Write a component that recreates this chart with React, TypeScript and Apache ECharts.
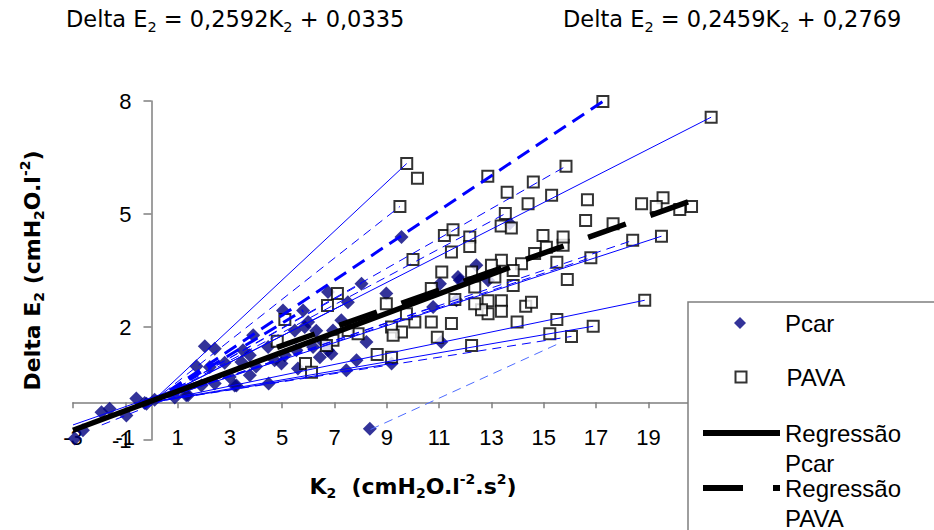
import React, { useEffect, useRef } from 'react';
import * as echarts from 'echarts';

// ---- data ----
const pcarPoints: number[][] = [
  [2.04, 1.49], [2.42, 1.42], [1.72, 0.96], [2.23, 0.94], [1.4, 0.19], [0.89, 0.13], [0.12, 0.07],
  [-0.26, -0.02], [2.42, 0.5], [1.91, 0.45], [2.99, 0.67], [3.25, 0.45], [3.5, 1.38], [3.44, 1.07],
  [3.76, 1.25], [3.89, 1.78], [3.76, 0.72], [4.48, 0.5], [4.46, 1.47], [4.71, 1.12], [4.97, 1.03],
  [5.03, 2.44], [5.1, 1.25], [5.48, 1.91], [5.54, 1.38], [5.8, 2.44], [5.99, 2.13], [5.86, 2.0],
  [6.18, 1.47], [6.56, 1.6], [6.44, 1.2], [6.75, 1.38], [6.88, 1.29], [6.75, 2.93], [6.94, 1.91],
  [7.26, 2.18], [7.51, 2.66], [7.45, 0.85], [7.84, 1.12], [8.03, 3.15], [8.22, 1.6], [8.98, 2.89],
  [9.18, 1.03], [10.77, 2.53], [8.35, -0.7], [9.56, 4.39], [12.42, 3.64], [11.72, 3.33], [11.03, 3.15],
  [11.79, 3.24], [12.87, 3.24], [11.08, 1.6], [11.66, 2.71], [13.7, 4.75], [-1.6, -0.17], [-1.91, -0.26],
  [-0.58, 0.1], [-0.96, -0.35], [-0.19, -0.04], [-2.93, -0.96], [-2.62, -0.74], [1.33, 0.19], [3.18, 0.45],
  [2.8, 1.05], [4.0, 0.95], [5.6, 0.9], [6.3, 1.9],
];

const pavaPoints: number[][] = [
  [17.26, 7.99], [21.4, 7.57], [9.76, 6.34], [10.17, 5.95], [9.5, 5.2], [12.86, 6.0], [15.85, 6.27],
  [14.6, 5.85], [13.6, 5.58], [15.3, 5.5], [14.4, 5.27], [16.67, 5.38], [16.6, 4.83], [18.74, 5.27],
  [19.56, 5.43], [19.3, 5.2], [20.2, 5.12], [20.65, 5.2], [17.65, 4.74], [13.53, 5.01], [13.37, 4.68],
  [13.76, 4.63], [19.5, 4.41], [18.4, 4.3], [16.8, 3.84], [15.74, 4.17], [15.74, 4.39], [14.97, 4.43],
  [15.1, 4.12], [14.65, 3.95], [14.15, 3.68], [15.5, 3.72], [15.9, 3.26], [13.83, 3.5], [13.83, 3.1],
  [13.38, 3.77], [13.0, 3.64], [13.13, 3.33], [12.36, 3.06], [12.24, 3.46], [12.87, 2.7], [13.38, 2.7],
  [13.38, 2.42], [12.87, 2.35], [12.62, 2.46], [12.36, 2.62], [14.31, 2.55], [14.53, 2.66], [13.98, 2.13],
  [11.6, 2.73], [11.1, 3.46], [10.0, 3.79], [11.47, 2.09], [10.7, 2.13], [10.07, 2.13], [9.75, 2.35],
  [9.56, 1.87], [10.93, 1.73], [12.24, 1.51], [15.5, 2.2], [15.23, 1.82], [16.06, 1.75], [16.89, 2.02],
  [18.86, 2.71], [11.2, 4.43], [11.53, 4.58], [12.17, 4.39], [12.17, 4.14], [11.47, 3.99], [10.7, 3.02],
  [8.98, 2.62], [9.18, 2.0], [9.24, 1.78], [9.18, 1.2], [8.63, 1.27], [7.9, 1.82], [7.52, 1.91],
  [6.94, 1.65], [6.69, 1.51], [7.11, 2.89], [6.73, 2.57], [5.1, 2.2], [4.81, 1.62], [5.89, 1.03], [6.12, 0.8],
];

const regPcar: number[][] = [[-3, -0.74], [13.7, 3.58]];
const regPava: number[][] = [[4.8, 1.46], [20.6, 5.34]];

// individual subject lines: [x1, y1, x2, y2]
const subjectLines: number[][] = [
  [0, 0, 9.76, 6.34], [0, 0, 9.5, 5.2], [0, 0, 17.26, 7.99], [0, 0, 15.85, 6.27], [0, 0, 21.4, 7.57],
  [0, 0, 19.5, 4.41], [0, 0, 18.4, 4.3], [0, 0, 18.86, 2.71], [0, 0, 16.89, 2.02], [8.38, -0.72, 15.6, 1.57],
  [0, 0, 16.8, 3.84], [0, 0, 8.03, 3.15], [0, 0, 7.51, 2.66], [0, 0, 9.18, 1.03], [0, 0, 10.77, 2.53],
  [0, 0, 5.8, 2.44], [0, 0, 16.06, 1.75], [0, 0, 13.53, 5.01], [-3, -0.6, 3.2, 0.9], [-1.9, -0.6, 5, 1.3],
];
// style code per subject line: s = solid, d = dashed, t = thick dashed, l = light dashed
const subjectLineKinds: string[] = [
  's', 'd', 't', 'd', 's', 's', 'd', 's', 's', 'l',
  'd', 'd', 's', 's', 'd', 't', 'd', 'd', 's', 'd',
];

const xMin = -3, xMax = 23, xStep = 2;
const yMin = -1, yMax = 8, yStep = 3;

const eqPcar = '{m|Delta E}{s|2}{m| = 0,2592K}{s|2}{m| + 0,0335}';
const eqPava = '{m|Delta E}{s|2}{m| = 0,2459K}{s|2}{m| + 0,2769}';
const xName = '{b|K}{s|2}{b|  (cmH}{s|2}{b|O.l}{p|-2}{b|.s}{p|2}{b|)}';
const yName = '{b|Delta E}{s|2}{b| (cmH}{s|2}{b|O.l}{p|-2}{b|)}';

export default function App() {
  const ref = useRef<HTMLDivElement>(null);
  useEffect(() => {
    if (!ref.current) return;
    const chart = echarts.init(ref.current, null, { renderer: 'svg' });

    // plot geometry
    const gLeft = 73, gTop = 101, gW = 680, gH = 339;
    const pxPerX = gW / (xMax - xMin);
    const pxPerY = gH / (yMax - yMin);
    const zeroX = gLeft + (0 - xMin) * pxPerX;
    const zeroY = gTop + (yMax - 0) * pxPerY;

    const boldRich = {
      b: { fontFamily: 'DejaVu Sans', fontWeight: 'bold', fontSize: 22, lineHeight: 28, color: '#000' },
      s: { fontFamily: 'DejaVu Sans', fontWeight: 'bold', fontSize: 14, lineHeight: 14, verticalAlign: 'bottom', color: '#000' },
      p: { fontFamily: 'DejaVu Sans', fontWeight: 'bold', fontSize: 14, lineHeight: 22, verticalAlign: 'top', color: '#000' },
    };
    const eqRich = {
      m: { fontFamily: 'DejaVu Sans', fontWeight: 'normal', fontSize: 22.5, lineHeight: 30, color: '#000' },
      s: { fontFamily: 'DejaVu Sans', fontWeight: 'normal', fontSize: 14.5, lineHeight: 16, verticalAlign: 'bottom', color: '#000' },
    };
    const lineSeries = subjectLines.map((l, i) => {
      const k = subjectLineKinds[i];
      return {
        name: 'sujeito ' + (i + 1),
        type: 'line',
        xAxisIndex: 0,
        yAxisIndex: 0,
        symbol: 'none',
        silent: true,
        data: [[l[0], l[1]], [l[2], l[3]]],
        itemStyle: { color: '#0000ff' },
        lineStyle: {
          color: k === 'l' ? '#4d6bff' : '#0000ff',
          width: k === 't' ? 3 : 1,
          type: k === 's' ? 'solid' : k === 't' ? [14, 8] : [9, 6],
        },
      };
    });
    const axisGray = '#7f7f7f';
    const legendText = { fontFamily: 'Liberation Sans', fontSize: 24, lineHeight: 30, color: '#000' };
    const legendBase = { orient: 'vertical', padding: 0, itemGap: 0, z: 5, symbolKeepAspect: true };

    chart.setOption({
      animation: false,
      title: [
        { text: eqPcar, left: 66, top: 4, padding: 0, textStyle: { fontWeight: 'normal', rich: eqRich } },
        { text: eqPava, left: 563, top: 4, padding: 0, textStyle: { fontWeight: 'normal', rich: eqRich } },
      ],
      grid: [
        // data grid
        { left: gLeft, top: gTop, width: gW, height: gH, outerBoundsMode: 'none', containLabel: false },
        // vertical axis, crossing at x = 0
        { left: zeroX, top: gTop, width: gLeft + gW - zeroX, height: gH, outerBoundsMode: 'none', containLabel: false },
        // horizontal axis, crossing at y = 0
        { left: gLeft, top: gTop, width: gW, height: zeroY - gTop, outerBoundsMode: 'none', containLabel: false },
      ],
      xAxis: [
        { type: 'value', gridIndex: 0, min: xMin, max: xMax, interval: xStep, show: false },
        { type: 'value', gridIndex: 1, min: 0, max: xMax, show: false },
        {
          type: 'value', gridIndex: 2, min: xMin, max: xMax, interval: xStep, position: 'bottom',
          axisLine: { show: true, onZero: false, lineStyle: { color: axisGray, width: 1.5 } },
          axisTick: { show: true, length: 6, lineStyle: { color: axisGray, width: 1.5 } },
          splitLine: { show: false },
          axisLabel: {
            margin: 24, color: '#000', fontFamily: 'Liberation Sans', fontSize: 22,
            formatter: (v: number) => (v > 19 ? '' : String(v)),
          },
          name: xName, nameLocation: 'middle', nameGap: 70,
          nameTextStyle: { rich: boldRich },
        },
      ],
      yAxis: [
        { type: 'value', gridIndex: 0, min: yMin, max: yMax, interval: yStep, show: false },
        {
          type: 'value', gridIndex: 1, min: yMin, max: yMax, interval: yStep, position: 'left',
          axisLine: { show: true, onZero: false, lineStyle: { color: axisGray, width: 1.5 } },
          axisTick: { show: true, length: 8, lineStyle: { color: axisGray, width: 1.5 } },
          axisLabel: { margin: 20, color: '#000', fontFamily: 'Liberation Sans', fontSize: 22 },
          splitLine: { show: false },
          name: yName, nameLocation: 'middle', nameGap: 105,
          nameTextStyle: { rich: boldRich },
        },
        { type: 'value', gridIndex: 2, min: 0, max: yMax, show: false },
      ],
      legend: [
        {
          ...legendBase, data: [{ name: 'Pcar', icon: 'diamond' }], left: 734, top: 308,
          itemWidth: 12, itemHeight: 12,
          textStyle: { ...legendText, padding: [0, 0, 0, 34] },
        },
        {
          ...legendBase, data: [{ name: 'PAVA', icon: 'rect' }], left: 734.5, top: 362,
          itemWidth: 11, itemHeight: 11,
          textStyle: { ...legendText, padding: [0, 0, 0, 35] },
        },
        {
          ...legendBase, data: [{ name: 'Regressão Pcar', icon: 'path://M0,0H77V6H0ZM76.9,35.9H77V36H76.9Z' }],
          left: 703, top: 418, itemWidth: 77, itemHeight: 36,
          formatter: (n: string) => n.replace(' ', '\n'),
          textStyle: legendText,
        },
        {
          ...legendBase, data: [{ name: 'Regressão PAVA', icon: 'path://M0,0H40V6H0ZM70,0H77V6H70ZM76.9,35.9H77V36H76.9Z' }],
          left: 703, top: 473, itemWidth: 77, itemHeight: 36,
          formatter: (n: string) => n.replace(' ', '\n'),
          textStyle: legendText,
        },
      ],
      graphic: [
        {
          type: 'rect', z: 3, silent: true,
          shape: { x: 688, y: 302, width: 300, height: 300 },
          style: { fill: '#fff', stroke: '#7f7f7f', lineWidth: 1.5 },
        },
      ],
      series: [
        ...lineSeries,
        {
          name: 'Pcar', type: 'scatter', xAxisIndex: 0, yAxisIndex: 0, symbol: 'diamond', symbolSize: 14,
          itemStyle: { color: '#000080' }, data: pcarPoints,
        },
        {
          name: 'PAVA', type: 'scatter', xAxisIndex: 0, yAxisIndex: 0, symbol: 'rect', symbolSize: 11,
          itemStyle: { color: '#ffffff', borderColor: '#000', borderWidth: 2 }, data: pavaPoints,
        },
        {
          name: 'Regressão Pcar', type: 'line', xAxisIndex: 0, yAxisIndex: 0, symbol: 'none', data: regPcar,
          itemStyle: { color: '#000' },
          lineStyle: { color: '#000', width: 5.5, type: 'solid' },
        },
        {
          name: 'Regressão PAVA', type: 'line', xAxisIndex: 0, yAxisIndex: 0, symbol: 'none', data: regPava,
          itemStyle: { color: '#000' },
          lineStyle: { color: '#000', width: 5.5, type: [40, 26] },
        },
      ],
    });
    return () => chart.dispose();
  }, []);
  return <div ref={ref} style={{ position: 'absolute', left: 0, top: 0, width: 934, height: 530 }} />;
}
